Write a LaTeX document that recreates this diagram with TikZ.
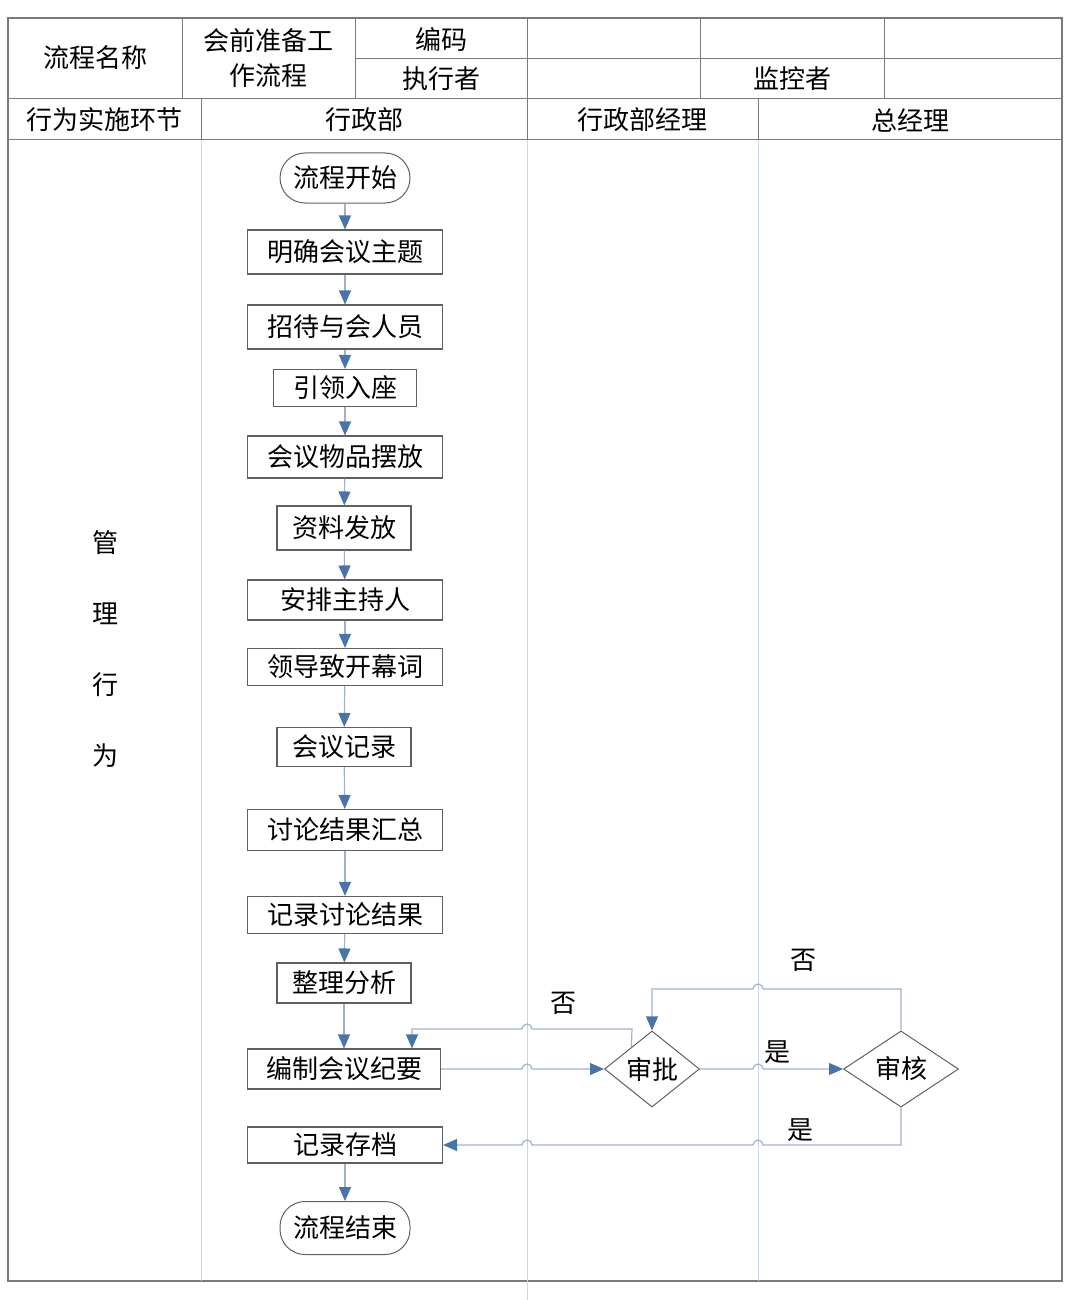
\documentclass[tikz,border=0pt]{standalone}
\usepackage{fontspec}
\newfontfamily\cjk{Noto Sans CJK SC}
\usepackage{tikz}
\usetikzlibrary{positioning}
\usetikzlibrary{calc}
\usetikzlibrary{arrows.meta}
\usetikzlibrary{shapes.geometric}

\definecolor{gridgray}{HTML}{7A7A7A}
\definecolor{lanecol}{HTML}{C9D7E8}
\definecolor{linkcol}{HTML}{9FB2C8}
\definecolor{tipcol}{HTML}{4A74A8}
\definecolor{boxgray}{HTML}{606060}

\begin{document}
\begin{tikzpicture}
 [ x=1pt, y=-1pt
 , every node/.style={font=\cjk\fontsize{26}{35}\selectfont, inner sep=0pt}
 , frame/.style={draw=gridgray, line width=1.5pt}
 , grid/.style={draw=gridgray, line width=1pt}
 , lane/.style={draw=lanecol, line width=1pt}
 , stepbox/.style={draw=boxgray, line width=1.1pt, minimum width=195, minimum height=40}
 , shortbox/.style={stepbox, minimum width=134}
 , terminal/.style={draw=boxgray, line width=1pt, rounded corners=25, minimum width=130, minimum height=50}
 , decision/.style={draw=boxgray, line width=1pt, shape=diamond, minimum width=95, minimum height=57, inner sep=0pt}
 , flow/.style={draw=linkcol, line width=1.2pt, -{Triangle[color=tipcol, length=14, width=12]}}
 ]
  \useasboundingbox (0,0) rectangle (1080,1300);

  % table
  \draw[frame] (8,18) rectangle (1062,1281);
  \draw[grid] (355,59) -- (1062,59);
  \draw[grid] (8,99) -- (1062,99);
  \draw[grid] (8,140) -- (1062,140);
  \foreach \x in {182,355,700,884}
    \draw[grid] (\x,18) -- (\x,99);
  \draw[grid] (527,18) -- (527,140);
  \foreach \x in {201,758}
    \draw[grid] (\x,99) -- (\x,140);
  \foreach \x in {201,758}
    \draw[lane] (\x,140) -- (\x,1281);
  \draw[lane] (527,140) -- (527,1300);

  % header
  \node (name)   at (95,58)   {流程名称};
  \node[align=center] (title) at (268,58) {会前准备工\\作流程};
  \node (code)   at (441,39)  {编码};
  \node (doer)   at (441,79)  {执行者};
  \node (watch)  at (792,79)  {监控者};
  \node (stage)  at (104,120) {行为实施环节};
  \node (admin)  at (364,120) {行政部};
  \node (adminm) at (642,120) {行政部经理};
  \node (gm)     at (910,120) {总经理};

  \foreach \c [count=\i] in {管,理,行,为}
    \node (m\i) at (105,472+71*\i) {\c};

  % flow
  \node[terminal] (start)   at (345,178)  {流程开始};
  \node[stepbox, minimum height=44] (topic) at (345,252) {明确会议主题};
  \node[stepbox, minimum height=44] (guest) at (345,327) {招待与会人员};
  \node[stepbox, minimum width=143, minimum height=37] (seat) at (345,388) {引领入座};
  \node[stepbox, minimum height=42] (items) at (345,457) {会议物品摆放};
  \node[shortbox, minimum height=44] (docs) at (344,528) {资料发放};
  \node[stepbox] (host)     at (345,600)  {安排主持人};
  \node[stepbox, minimum height=37] (speech) at (345,667) {领导致开幕词};
  \node[shortbox, minimum height=39] (notes) at (344,747) {会议记录};
  \node[stepbox, minimum height=41] (sum) at (345,830) {讨论结果汇总};
  \node[stepbox, minimum height=37] (rec) at (345,915) {记录讨论结果};
  \node[shortbox] (ana)     at (344,983)  {整理分析};
  \node[stepbox, minimum width=193] (draft) at (344,1069) {编制会议纪要};
  \node[stepbox, minimum height=36] (arch) at (345,1145) {记录存档};
  \node[terminal, minimum height=53] (stop) at (345,1228) {流程结束};

  \node[decision] (appr)  at (652,1069) {审批};
  \node[decision, minimum width=115] (check) at (901,1069) {审核};

  \node (no1)  at (563,1003) {否};
  \node (no2)  at (803,960)  {否};
  \node (yes1) at (777,1052) {是};
  \node (yes2) at (800,1130) {是};

  \foreach \a/\b in {start/topic, topic/guest, guest/seat, seat/items, items/docs,
                     docs/host, host/speech, speech/notes, notes/sum, sum/rec,
                     rec/ana, ana/draft, arch/stop}
    \draw[flow] (\a) -- (\b);

  \draw[flow] (draft.east) -- (522,1069) arc (180:360:5) -- (appr.west);
  \draw[flow] (appr.east) -- (753,1069) arc (180:360:5) -- (check.west);
  \draw[flow] ($(appr.north)!0.43!(appr.west)$) -- (632,1029) -- (532,1029)
    arc (0:-180:5) -- (412,1029) -- (draft.north -| 412,0);
  \draw[flow] (check.north) -- (901,989) -- (763,989) arc (0:-180:5)
    -- (652,989) -- (appr.north);
  \draw[flow] (check.south) -- (901,1145) -- (763,1145) arc (0:-180:5)
    -- (532,1145) arc (0:-180:5) -- (arch.east);
\end{tikzpicture}
\end{document}
